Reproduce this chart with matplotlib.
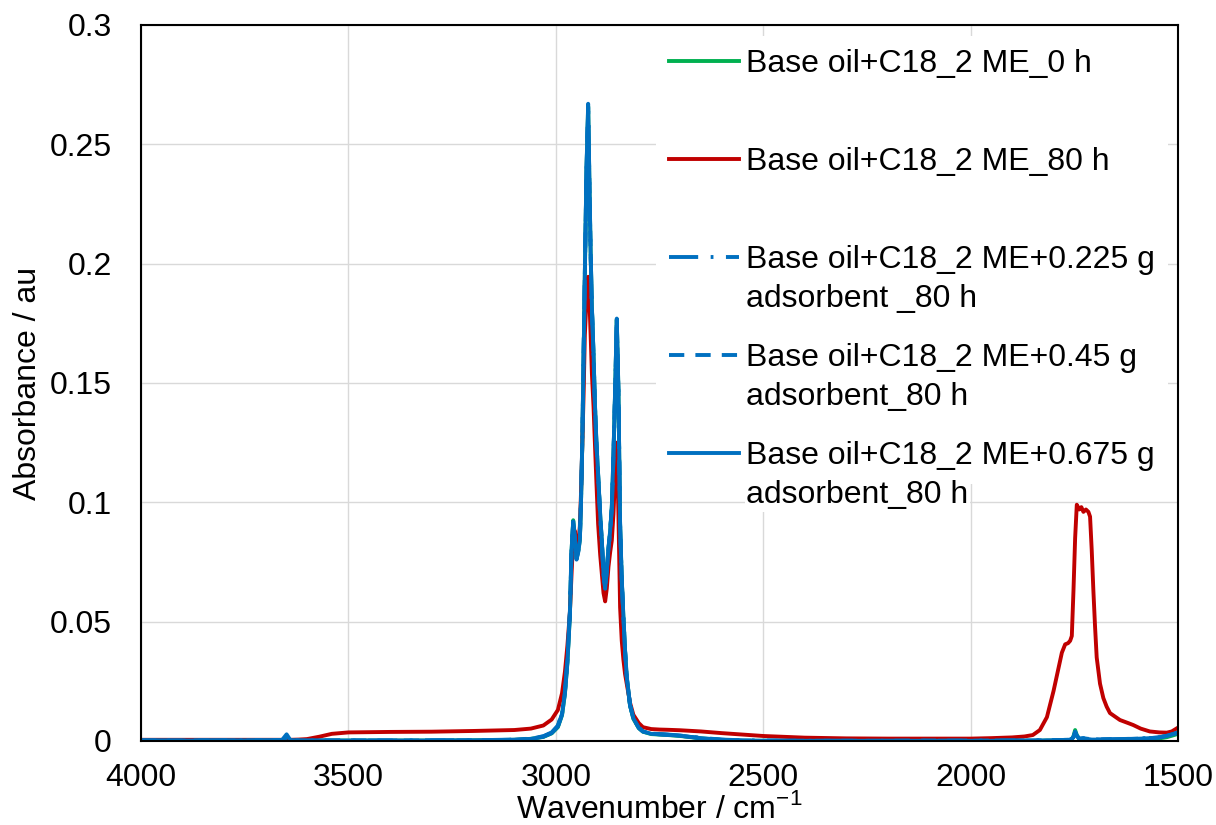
import matplotlib
matplotlib.use("Agg")
import matplotlib.pyplot as plt

plt.rcParams["font.family"] = ["Liberation Sans", "DejaVu Sans"]
plt.rcParams["mathtext.fontset"] = "custom"
plt.rcParams["mathtext.rm"] = "Liberation Sans"
plt.rcParams["lines.scale_dashes"] = False

# FTIR spectra: wavenumber (cm-1) and absorbance (au)
wavenumber = [
    4000, 3900, 3800, 3700, 3660, 3649, 3640, 3620, 3600, 3570,
    3540, 3500, 3400, 3300, 3200, 3100, 3060, 3030, 3010, 2995,
    2985, 2978, 2972, 2966, 2962, 2958, 2954, 2950, 2946, 2942,
    2939, 2936, 2933, 2930, 2926, 2922, 2919, 2916, 2913, 2909,
    2906, 2902, 2898, 2893, 2889, 2885, 2881, 2877, 2873, 2869,
    2865, 2861, 2857, 2853, 2849, 2845, 2841, 2837, 2833, 2829,
    2821, 2813, 2800, 2790, 2770, 2750, 2730, 2700, 2650, 2600,
    2550, 2500, 2400, 2300, 2200, 2100, 2000, 1950, 1900, 1870,
    1850, 1833, 1816, 1800, 1790, 1780, 1772, 1765, 1760, 1756,
    1752, 1748, 1744, 1738, 1733, 1728, 1722, 1716, 1712, 1708,
    1704, 1700, 1696, 1688, 1680, 1672, 1664, 1650, 1640, 1620,
    1608, 1590, 1568, 1545, 1527, 1515, 1500,
]

abs_0h = [
    0.0002, 0.0002, 0.0002, 0.0003, 0.0003, 0.0008, 0.0003, 0.0003, 0.0002, 0.0002,
    0.0002, 0.0002, 0.0002, 0.0002, 0.0003, 0.0005, 0.0009, 0.0017, 0.0032, 0.0058,
    0.0108, 0.0198, 0.0328, 0.0528, 0.0798, 0.0925, 0.0858, 0.0768, 0.0795, 0.0842,
    0.1018, 0.1255, 0.1605, 0.1955, 0.2390, 0.2660, 0.2340, 0.2045, 0.1815, 0.1615,
    0.1425, 0.1245, 0.1115, 0.0945, 0.0835, 0.0695, 0.0635, 0.0715, 0.0805, 0.0875,
    0.0975, 0.1195, 0.1465, 0.1765, 0.1465, 0.0905, 0.0675, 0.0515, 0.0375, 0.0265,
    0.0148, 0.0093, 0.0054, 0.0039, 0.0029, 0.0027, 0.0025, 0.0021, 0.0011, 0.0004,
    0.0001, 0.0001, 0.0000, 0.0000, 0.0000, 0.0000, 0.0000, 0.0001, 0.0001, 0.0001,
    0.0001, 0.0001, 0.0002, 0.0002, 0.0002, 0.0003, 0.0003, 0.0003, 0.0004, 0.0008,
    0.0020, 0.0046, 0.0025, 0.0008, 0.0007, 0.0007, 0.0006, 0.0005, 0.0004, 0.0004,
    0.0004, 0.0004, 0.0004, 0.0004, 0.0004, 0.0004, 0.0004, 0.0004, 0.0005, 0.0005,
    0.0006, 0.0007, 0.0009, 0.0011, 0.0016, 0.0022, 0.0030,
]

abs_80h = [
    0.0005, 0.0005, 0.0005, 0.0005, 0.0005, 0.0005, 0.0005, 0.0006, 0.0008, 0.0018,
    0.0030, 0.0036, 0.0038, 0.0039, 0.0042, 0.0046, 0.0052, 0.0065, 0.0090, 0.0130,
    0.0200, 0.0290, 0.0400, 0.0540, 0.0700, 0.0850, 0.0880, 0.0800, 0.0830, 0.0900,
    0.1050, 0.1250, 0.1450, 0.1700, 0.1850, 0.1945, 0.1850, 0.1700, 0.1540, 0.1400,
    0.1260, 0.1080, 0.0910, 0.0780, 0.0700, 0.0620, 0.0585, 0.0640, 0.0730, 0.0790,
    0.0840, 0.0950, 0.1120, 0.1250, 0.0950, 0.0560, 0.0420, 0.0340, 0.0280, 0.0240,
    0.0160, 0.0110, 0.0075, 0.0058, 0.0050, 0.0048, 0.0047, 0.0045, 0.0040, 0.0033,
    0.0027, 0.0021, 0.0014, 0.0011, 0.0010, 0.0010, 0.0010, 0.0012, 0.0015, 0.0019,
    0.0025, 0.0046, 0.0100, 0.0210, 0.0290, 0.0370, 0.0405, 0.0410, 0.0420, 0.0440,
    0.0630, 0.0850, 0.0990, 0.0970, 0.0980, 0.0960, 0.0970, 0.0960, 0.0940, 0.0800,
    0.0630, 0.0480, 0.0350, 0.0240, 0.0180, 0.0144, 0.0117, 0.0100, 0.0088, 0.0075,
    0.0067, 0.0052, 0.0040, 0.0036, 0.0035, 0.0040, 0.0056,
]

abs_0225g = [
    0.0003, 0.0002, 0.0003, 0.0003, 0.0003, 0.0010, 0.0003, 0.0003, 0.0002, 0.0002,
    0.0002, 0.0002, 0.0002, 0.0003, 0.0003, 0.0006, 0.0010, 0.0020, 0.0036, 0.0065,
    0.0118, 0.0210, 0.0345, 0.0545, 0.0810, 0.0915, 0.0840, 0.0765, 0.0800, 0.0850,
    0.1030, 0.1270, 0.1620, 0.1950, 0.2380, 0.2640, 0.2330, 0.2040, 0.1810, 0.1610,
    0.1420, 0.1240, 0.1110, 0.0940, 0.0830, 0.0695, 0.0635, 0.0715, 0.0805, 0.0875,
    0.0975, 0.1190, 0.1460, 0.1750, 0.1460, 0.0905, 0.0675, 0.0515, 0.0375, 0.0268,
    0.0150, 0.0096, 0.0056, 0.0041, 0.0031, 0.0029, 0.0027, 0.0023, 0.0013, 0.0006,
    0.0003, 0.0002, 0.0001, 0.0001, 0.0001, 0.0001, 0.0002, 0.0002, 0.0002, 0.0002,
    0.0003, 0.0003, 0.0003, 0.0004, 0.0004, 0.0004, 0.0005, 0.0005, 0.0006, 0.0009,
    0.0017, 0.0036, 0.0021, 0.0010, 0.0011, 0.0011, 0.0010, 0.0009, 0.0008, 0.0007,
    0.0007, 0.0006, 0.0006, 0.0006, 0.0006, 0.0007, 0.0007, 0.0008, 0.0008, 0.0008,
    0.0009, 0.0011, 0.0013, 0.0016, 0.0021, 0.0027, 0.0034,
]

abs_045g = [
    0.0002, 0.0003, 0.0002, 0.0003, 0.0003, 0.0012, 0.0003, 0.0002, 0.0002, 0.0003,
    0.0002, 0.0003, 0.0002, 0.0002, 0.0003, 0.0005, 0.0010, 0.0019, 0.0034, 0.0062,
    0.0114, 0.0205, 0.0338, 0.0538, 0.0805, 0.0918, 0.0845, 0.0762, 0.0795, 0.0845,
    0.1025, 0.1265, 0.1615, 0.1955, 0.2390, 0.2655, 0.2340, 0.2045, 0.1815, 0.1615,
    0.1425, 0.1245, 0.1115, 0.0945, 0.0835, 0.0698, 0.0638, 0.0718, 0.0808, 0.0878,
    0.0978, 0.1195, 0.1465, 0.1760, 0.1465, 0.0908, 0.0678, 0.0518, 0.0378, 0.0269,
    0.0150, 0.0095, 0.0055, 0.0040, 0.0031, 0.0028, 0.0026, 0.0022, 0.0012, 0.0005,
    0.0002, 0.0001, 0.0001, 0.0001, 0.0001, 0.0002, 0.0001, 0.0002, 0.0002, 0.0002,
    0.0002, 0.0003, 0.0003, 0.0003, 0.0004, 0.0004, 0.0004, 0.0005, 0.0005, 0.0008,
    0.0016, 0.0038, 0.0022, 0.0009, 0.0010, 0.0012, 0.0009, 0.0008, 0.0007, 0.0007,
    0.0006, 0.0006, 0.0007, 0.0006, 0.0007, 0.0007, 0.0008, 0.0007, 0.0008, 0.0009,
    0.0009, 0.0010, 0.0012, 0.0015, 0.0021, 0.0028, 0.0035,
]

abs_0675g = [
    0.0002, 0.0002, 0.0003, 0.0003, 0.0004, 0.0028, 0.0004, 0.0003, 0.0002, 0.0002,
    0.0002, 0.0002, 0.0002, 0.0002, 0.0003, 0.0005, 0.0009, 0.0018, 0.0033, 0.0060,
    0.0110, 0.0200, 0.0330, 0.0530, 0.0800, 0.0920, 0.0850, 0.0760, 0.0790, 0.0840,
    0.1020, 0.1260, 0.1610, 0.1960, 0.2400, 0.2670, 0.2350, 0.2050, 0.1820, 0.1620,
    0.1430, 0.1250, 0.1120, 0.0950, 0.0840, 0.0700, 0.0640, 0.0720, 0.0810, 0.0880,
    0.0980, 0.1200, 0.1470, 0.1770, 0.1470, 0.0910, 0.0680, 0.0520, 0.0380, 0.0270,
    0.0150, 0.0095, 0.0055, 0.0040, 0.0030, 0.0028, 0.0026, 0.0022, 0.0012, 0.0005,
    0.0002, 0.0001, 0.0001, 0.0001, 0.0001, 0.0001, 0.0001, 0.0001, 0.0002, 0.0002,
    0.0002, 0.0002, 0.0003, 0.0003, 0.0003, 0.0004, 0.0004, 0.0004, 0.0005, 0.0008,
    0.0016, 0.0039, 0.0022, 0.0009, 0.0011, 0.0012, 0.0009, 0.0008, 0.0007, 0.0006,
    0.0006, 0.0006, 0.0006, 0.0006, 0.0007, 0.0007, 0.0007, 0.0007, 0.0008, 0.0008,
    0.0009, 0.0010, 0.0012, 0.0015, 0.0022, 0.0028, 0.0036,
]

legend_first_lines = [
    "Base oil+C18_2 ME_0 h",
    "Base oil+C18_2 ME_80 h",
    "Base oil+C18_2 ME+0.225 g",
    "Base oil+C18_2 ME+0.45 g",
    "Base oil+C18_2 ME+0.675 g",
]
legend_second_lines = [None, None, "adsorbent _80 h", "adsorbent_80 h", "adsorbent_80 h"]

x_ticks = [4000, 3500, 3000, 2500, 2000, 1500]
y_ticks = [0, 0.05, 0.1, 0.15, 0.2, 0.25, 0.3]
y_tick_labels = ["0", "0.05", "0.1", "0.15", "0.2", "0.25", "0.3"]

GREEN = "#00B050"
RED = "#C00000"
BLUE = "#0070C0"
series = [
    (abs_0h, GREEN, "-"),
    (abs_80h, RED, "-"),
    (abs_0225g, BLUE, (0, (21, 9, 2, 9))),
    (abs_045g, BLUE, (0, (11, 8))),
    (abs_0675g, BLUE, "-"),
]

FS = 23

fig = plt.figure(figsize=(12.16, 8.25), dpi=100)
ax = fig.add_axes([141 / 1216, 84 / 825, 1037 / 1216, 716 / 825])

handles = []
for values, color, style in series:
    (ln,) = ax.plot(wavenumber, values, color=color, lw=2.8, linestyle=style,
                    solid_joinstyle="round", dash_joinstyle="round")
    handles.append(ln)

ax.set_xlim(4000, 1500)
ax.set_ylim(0, 0.3)
ax.set_xticks(x_ticks)
ax.set_yticks(y_ticks)
ax.set_yticklabels(y_tick_labels)
ax.tick_params(axis="both", length=0, labelsize=FS)
ax.tick_params(axis="x", pad=16)
ax.tick_params(axis="y", pad=21)
ax.grid(True, color="#d9d9d9", lw=1.0)
ax.set_axisbelow(True)
for sp in ax.spines.values():
    sp.set_color("black")
    sp.set_linewidth(1.5)

ax.set_xlabel(r"Wavenumber / cm$^{\mathregular{-1}}$", fontsize=FS, labelpad=0)
ax.set_ylabel("Absorbance / au", fontsize=FS, labelpad=5)

leg = ax.legend(handles, legend_first_lines, loc="upper left",
                bbox_to_anchor=((656 - 141) / 1037, (741 - 36) / 716),
                fontsize=FS, handlelength=2.2, handletextpad=0.22,
                labelspacing=2.13, borderpad=0.4, borderaxespad=0,
                frameon=True, fancybox=False, framealpha=1,
                facecolor="white", edgecolor="none")
leg.set_zorder(5)

for txt, second in zip(leg.get_texts(), legend_second_lines):
    if second is None:
        continue
    ax.annotate(second, xy=(0, 0), xycoords=txt, xytext=(0, -28.3),
                textcoords="offset points", ha="left", va="bottom",
                fontsize=FS, zorder=6,
                bbox=dict(fc="white", ec="none", pad=1))

fig.savefig("out.png", dpi=100)
